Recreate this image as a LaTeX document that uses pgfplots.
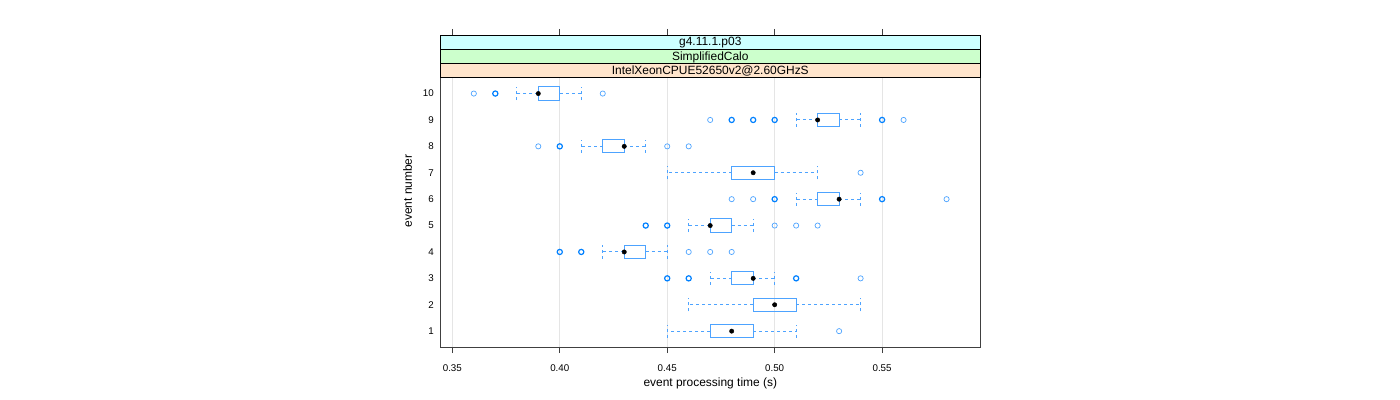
\documentclass[border=0pt]{standalone}
\usepackage{fontspec}
\setmainfont{Liberation Sans}
\usepackage{pgfplots}
\pgfplotsset{compat=1.18}
\usepgfplotslibrary{statistics}
\definecolor{bw}{HTML}{0080FF}
\definecolor{bwl}{HTML}{4DA3FF}
\definecolor{stripA}{HTML}{FFE5CC}
\definecolor{stripB}{HTML}{CCFFCC}
\definecolor{stripC}{HTML}{CCFFFF}
\begin{document}
\begin{tikzpicture}
\useasboundingbox (-440.3bp,-53bp) rectangle (959.7bp,347bp);
\begin{axis}[
  at={(0,0)}, anchor=south west,
  scale only axis, width=540bp, height=312bp,
  xmin=0.3444, xmax=0.5957, ymin=0.4, ymax=12.218,
  xtick={0.35,0.40,0.45,0.50,0.55},
  xticklabels={0.35,0.40,0.45,0.50,0.55},
  ytick={1,2,3,4,5,6,7,8,9,10},
  yticklabels={1,2,3,4,5,6,7,8,9,10},
  xtick pos=both, ytick pos=left,
  tick align=outside,
  major tick length=6bp,
  x tick style={draw=black!75, line width=0.7bp},
  y tick style={draw=none},
  /pgf/number format/assume math mode=true,
  tick label style={font=\fontsize{9.8}{11}\selectfont},
  xticklabel style={yshift=-8bp},
  yticklabel style={xshift=3bp},
  label style={font=\fontsize{12}{14}\selectfont},
  xlabel={event processing time (s)},
  ylabel={event number},
  xlabel style={yshift=0bp},
  ylabel style={yshift=4bp},
  xmajorgrids, ymajorgrids=false,
  grid style={draw=black!10, line width=0.7bp},
  axis line style={draw=black!75, line width=0.8bp},
  boxplot/draw direction=x,
  boxplot/box extend=0.5,
  boxplot/whisker extend=0.5,
  boxplot/every box/.style={draw=bwl, fill=none, solid, line width=1bp},
  boxplot/every whisker/.style={draw=bwl, dash pattern=on 3bp off 3bp, line width=1bp},
  boxplot/every median/.style={draw=none},
  clip=false,
]
% event 1..10 boxplots
\addplot[draw=bwl, color=bwl, mark=none, boxplot prepared={draw position=1, lower whisker=0.45, lower quartile=0.47, median=0.48, upper quartile=0.49, upper whisker=0.51}] coordinates {};
\addplot[draw=bwl, color=bwl, mark=none, boxplot prepared={draw position=2, lower whisker=0.46, lower quartile=0.49, median=0.50, upper quartile=0.51, upper whisker=0.54}] coordinates {};
\addplot[draw=bwl, color=bwl, mark=none, boxplot prepared={draw position=3, lower whisker=0.47, lower quartile=0.48, median=0.49, upper quartile=0.49, upper whisker=0.50}] coordinates {};
\addplot[draw=bwl, color=bwl, mark=none, boxplot prepared={draw position=4, lower whisker=0.42, lower quartile=0.43, median=0.43, upper quartile=0.44, upper whisker=0.45}] coordinates {};
\addplot[draw=bwl, color=bwl, mark=none, boxplot prepared={draw position=5, lower whisker=0.46, lower quartile=0.47, median=0.47, upper quartile=0.48, upper whisker=0.49}] coordinates {};
\addplot[draw=bwl, color=bwl, mark=none, boxplot prepared={draw position=6, lower whisker=0.51, lower quartile=0.52, median=0.53, upper quartile=0.53, upper whisker=0.54}] coordinates {};
\addplot[draw=bwl, color=bwl, mark=none, boxplot prepared={draw position=7, lower whisker=0.45, lower quartile=0.48, median=0.49, upper quartile=0.50, upper whisker=0.52}] coordinates {};
\addplot[draw=bwl, color=bwl, mark=none, boxplot prepared={draw position=8, lower whisker=0.41, lower quartile=0.42, median=0.43, upper quartile=0.43, upper whisker=0.44}] coordinates {};
\addplot[draw=bwl, color=bwl, mark=none, boxplot prepared={draw position=9, lower whisker=0.51, lower quartile=0.52, median=0.52, upper quartile=0.53, upper whisker=0.54}] coordinates {};
\addplot[draw=bwl, color=bwl, mark=none, boxplot prepared={draw position=10, lower whisker=0.38, lower quartile=0.39, median=0.39, upper quartile=0.40, upper whisker=0.41}] coordinates {};
% outliers (single)
\addplot[only marks, mark=o, mark size=2.6bp, mark options={draw=bwl, line width=0.7bp}] coordinates {
(0.53,1) (0.54,3) (0.46,4) (0.47,4) (0.48,4) (0.50,5) (0.51,5) (0.52,5)
(0.48,6) (0.49,6) (0.58,6) (0.54,7) (0.39,8) (0.45,8) (0.46,8)
(0.47,9) (0.56,9) (0.36,10) (0.42,10)};
% outliers (repeated values)
\addplot[only marks, mark=o, mark size=2.6bp, mark options={draw=bw, line width=1.2bp}] coordinates {
(0.45,3) (0.46,3) (0.51,3) (0.40,4) (0.41,4) (0.44,5) (0.45,5)
(0.50,6) (0.55,6) (0.40,8) (0.48,9) (0.49,9) (0.50,9) (0.55,9) (0.37,10)};
% medians
\addplot[only marks, mark=*, mark size=2.2bp, mark options={draw=black, fill=black}] coordinates {
(0.48,1) (0.50,2) (0.49,3) (0.43,4) (0.47,5) (0.53,6) (0.49,7) (0.43,8) (0.52,9) (0.39,10)};
% strips
\filldraw[fill=stripA, draw=black, line width=0.6bp] (rel axis cs:0,0.8631) rectangle (rel axis cs:1,0.908);
\filldraw[fill=stripB, draw=black, line width=0.6bp] (rel axis cs:0,0.908) rectangle (rel axis cs:1,0.955);
\filldraw[fill=stripC, draw=black, line width=0.6bp] (rel axis cs:0,0.955) rectangle (rel axis cs:1,1);
\node[font=\fontsize{12}{14}\selectfont, inner sep=0pt, anchor=base] at (rel axis cs:0.5,0.8737) {IntelXeonCPUE52650v2@2.60GHzS};
\node[font=\fontsize{12}{14}\selectfont, inner sep=0pt, anchor=base] at (rel axis cs:0.5,0.9186) {SimplifiedCalo};
\node[font=\fontsize{12}{14}\selectfont, inner sep=0pt, anchor=base] at (rel axis cs:0.5,0.9656) {g4.11.1.p03};
\end{axis}
\end{tikzpicture}
\end{document}
